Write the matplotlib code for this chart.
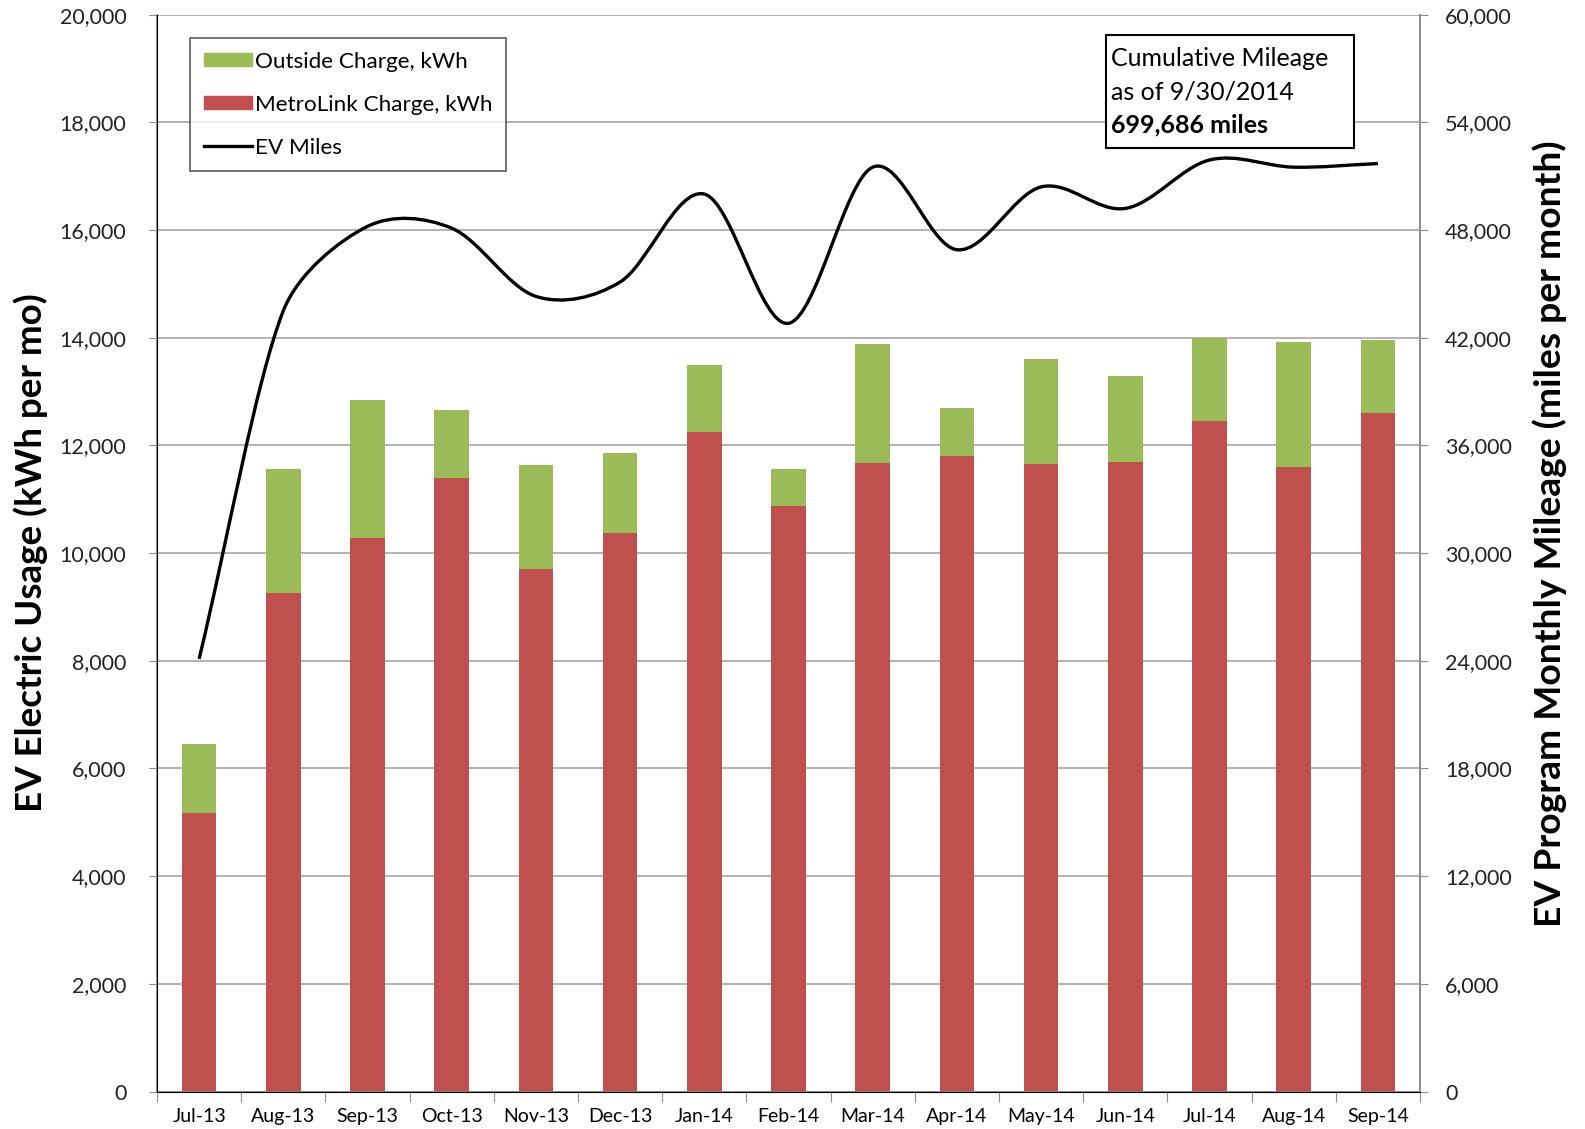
import matplotlib
matplotlib.use("Agg")
import matplotlib.pyplot as plt
from matplotlib.path import Path
from matplotlib.patches import PathPatch, Patch, Rectangle
from matplotlib.lines import Line2D
from matplotlib.ticker import FuncFormatter, MultipleLocator
import numpy as np

months = ["Jul-13", "Aug-13", "Sep-13", "Oct-13", "Nov-13", "Dec-13", "Jan-14",
          "Feb-14", "Mar-14", "Apr-14", "May-14", "Jun-14", "Jul-14", "Aug-14", "Sep-14"]
metrolink_kwh = [5180, 9250, 10280, 11390, 9700, 10370, 12250, 10880, 11680, 11810, 11660, 11700, 12450, 11600, 12610]
total_kwh = [6450, 11560, 12840, 12660, 11630, 11850, 13500, 11560, 13890, 12700, 13610, 13290, 14000, 13920, 13960]
outside_kwh = [t - m for t, m in zip(total_kwh, metrolink_kwh)]
ev_miles = [24100, 43500, 48200, 48100, 44300, 45100, 50000, 42800, 51500, 46900, 50400, 49200, 51900, 51500, 51700]

RED = "#C0504D"
GREEN = "#9BBB59"
GRID = "#A6A6A6"
SPINE = "#8C8C8C"
FONT = "Lato"

fig = plt.figure(figsize=(15.85, 11.29), dpi=100)
ax = fig.add_axes([157/1585, 1 - 1091.5/1129, (1420-157)/1585, (1091.5-14.6)/1129])
x = np.arange(len(months))
w = 0.41
ax.bar(x, metrolink_kwh, w, color=RED, edgecolor="none", zorder=2)
ax.bar(x, outside_kwh, w, bottom=metrolink_kwh, color=GREEN, edgecolor="none", zorder=2)

ax.set_xlim(-0.5, len(months) - 0.5)
ax.set_ylim(0, 20000)
ax.yaxis.set_major_locator(MultipleLocator(2000))
ax.yaxis.set_major_formatter(FuncFormatter(lambda v, p: f"{int(v):,}"))
ax.grid(axis="y", color=GRID, linewidth=1.2)
ax.set_axisbelow(True)
ax.set_xticks(np.arange(-0.5, len(months), 1.0))
ax.set_xticklabels([])
ax.set_xticks(x, minor=True)
ax.set_xticklabels(months, minor=True, fontsize=14, family=FONT)
ax.tick_params(axis="x", which="minor", length=0, pad=12)
ax.tick_params(axis="x", which="major", length=7, color=SPINE, direction="out")
ax.tick_params(axis="y", length=6, color=SPINE, pad=16)
for lab in ax.get_yticklabels():
    lab.set_family(FONT)
    lab.set_fontsize(15.5)
    lab.set_color("#222222")
ax.spines["top"].set_visible(False)
for s in ["left", "bottom", "right"]:
    ax.spines[s].set_color(SPINE)
    ax.spines[s].set_linewidth(1.3)

ax2 = ax.twinx()
ax2.set_ylim(0, 60000)
ax2.yaxis.set_major_locator(MultipleLocator(6000))
ax2.yaxis.set_major_formatter(FuncFormatter(lambda v, p: f"{int(v):,}"))
ax2.tick_params(axis="y", length=6, color=SPINE, pad=12)
for lab in ax2.get_yticklabels():
    lab.set_family(FONT)
    lab.set_fontsize(15.5)
    lab.set_color("#222222")
ax2.spines["top"].set_visible(False)
ax2.spines["right"].set_color(SPINE)
ax2.spines["right"].set_linewidth(1.3)

fig.text(31/1585, 1 - 553/1129, "EV Electric Usage (kWh per mo)", fontsize=26.5,
         fontweight="bold", family=FONT, rotation=90, ha="center", va="center")
fig.text(1550/1585, 1 - 534/1129, "EV Program Monthly Mileage (miles per month)",
         fontsize=26.8, fontweight="bold", family=FONT, rotation=90, ha="center", va="center")

# smoothed line: Bezier through data points, tangents built in display space
pts = ax2.transData.transform(np.column_stack([x, ev_miles]).astype(float))
n = len(pts)
verts = [pts[0]]
codes = [Path.MOVETO]
k = 0.34
for i in range(n - 1):
    p1 = pts[i]
    p2 = pts[i + 1]
    seg = np.hypot(*(p2 - p1))
    t1 = (pts[i + 1] - pts[i - 1]) if i > 0 else (p2 - p1)
    t2 = (pts[i + 2] - pts[i]) if i + 2 < n else (p2 - p1)
    l1 = min(seg * k, np.hypot(*t1) / 6.0) if i > 0 else seg * k
    l2 = min(seg * k, np.hypot(*t2) / 6.0) if i + 2 < n else seg * k
    c1 = p1 + t1 / np.hypot(*t1) * l1
    c2 = p2 - t2 / np.hypot(*t2) * l2
    verts += [c1, c2, p2]
    codes += [Path.CURVE4] * 3
verts = ax2.transData.inverted().transform(np.array(verts))
ax2.add_patch(PathPatch(Path(verts, codes), fill=False, edgecolor="black",
                        linewidth=2.4, zorder=3, capstyle="butt", joinstyle="round"))

handles = [Patch(color=GREEN), Patch(color=RED), Line2D([], [], color="black", linewidth=2.4)]
labels = ["Outside Charge, kWh", "MetroLink Charge, kWh", "EV Miles"]
leg = ax2.legend(handles, labels, loc="upper left", fancybox=False,
                 prop={"family": FONT, "size": 16.2}, handlelength=2.15, handleheight=0.55,
                 handletextpad=0.15, labelspacing=1.03, borderpad=0.6, borderaxespad=0,
                 frameon=True)
leg.set_bbox_to_anchor((190/1585, 1 - 38/1129), transform=fig.transFigure)
leg.get_frame().set_edgecolor("#333333")
leg.get_frame().set_linewidth(1.2)

# annotation box
fig.patches.append(Rectangle((1106/1585, 1 - 148/1129), (1354-1106)/1585, (148-35)/1129,
                             transform=fig.transFigure, fill=True, facecolor="white",
                             edgecolor="black", linewidth=1.5, zorder=5))
fig.text(1111/1585, 1 - 59/1129, "Cumulative Mileage", fontsize=18, family=FONT,
         va="center", ha="left", zorder=6)
fig.text(1111/1585, 1 - 92/1129, "as of 9/30/2014", fontsize=18, family=FONT,
         va="center", ha="left", zorder=6)
fig.text(1111/1585, 1 - 125/1129, "699,686 miles", fontsize=18, family=FONT,
         fontweight="bold", va="center", ha="left", zorder=6)

fig.savefig("out.png", dpi=100)
